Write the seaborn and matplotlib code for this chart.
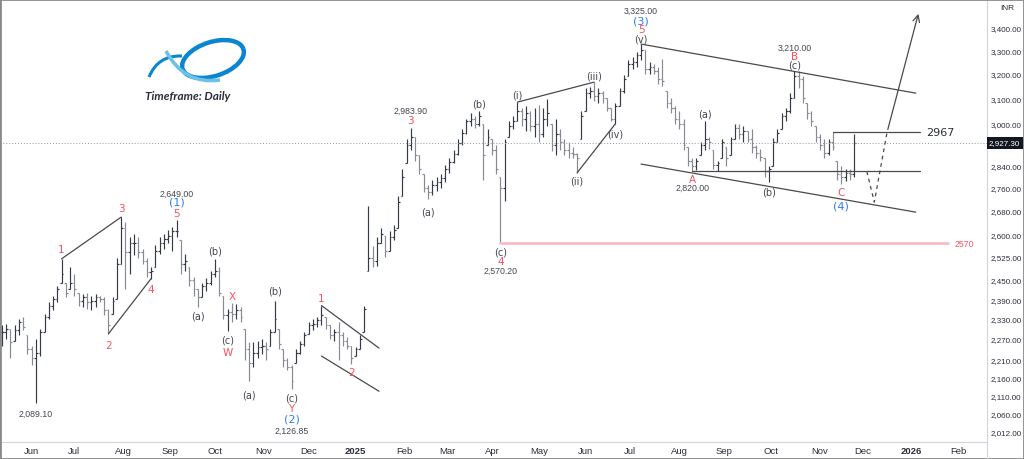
'''
Daily OHLC chart with Elliott wave count (INR), TradingView style.
'''
import numpy as np
import pandas as pd
import matplotlib
matplotlib.use('Agg')
import matplotlib.pyplot as plt
import matplotlib.patches as mpatches
from matplotlib.path import Path
from matplotlib.ticker import FixedLocator, NullLocator, FuncFormatter
import seaborn as sns

# one drawn bar every 2 business days, starting 2024-05-14
start_day = '2024-05-14'
bar_step = 2

highs = [2310, 2315, 2300, 2310, 2330, 2335, 2280, 2250, 2270, 2300,
         2345, 2380, 2400, 2430, 2518, 2440, 2490, 2470, 2410, 2405,
         2410, 2400, 2405, 2400, 2395, 2360, 2395, 2520, 2658, 2640,
         2590, 2600, 2590, 2550, 2520, 2490, 2565, 2590, 2600, 2615,
         2625, 2648, 2580, 2535, 2490, 2460, 2420, 2440, 2455, 2480,
         2518, 2490, 2400, 2360, 2378, 2375, 2365, 2300, 2260, 2260,
         2265, 2270, 2260, 2300, 2385, 2300, 2240, 2215, 2195, 2240,
         2265, 2290, 2320, 2330, 2335, 2370, 2335, 2310, 2300, 2320,
         2290, 2275, 2250, 2245, 2280, 2370, 2697, 2560, 2590, 2620,
         2595, 2610, 2630, 2730, 2830, 2940, 2984, 2950, 2880, 2810,
         2770, 2790, 2800, 2810, 2845, 2870, 2900, 2940, 2980, 3020,
         3040, 3030, 3050, 3000, 2980, 2940, 2920, 2800, 2940, 3010,
         3030, 3085, 3060, 3070, 3050, 3060, 3075, 3060, 3097, 3000,
         3020, 2980, 2940, 2930, 2910, 2890, 3050, 3140, 3145, 3166,
         3140, 3130, 3100, 3060, 3080, 3140, 3195, 3260, 3270, 3290,
         3326, 3300, 3250, 3240, 3230, 3262, 3130, 3100, 3070, 3050,
         3020, 2910, 2870, 2870, 2930, 3010, 2950, 2900, 2860, 2940,
         2910, 2950, 3000, 3000, 2990, 2970, 2980, 2920, 2905, 2870,
         2840, 2945, 2980, 3040, 3060, 3120, 3212, 3212, 3190, 3080,
         3050, 2990, 2960, 2940, 2940, 2967, 2860, 2840, 2830, 2830,
         2960]
lows = [2250, 2270, 2215, 2265, 2280, 2295, 2225, 2195, 2089.1, 2220,
        2290, 2330, 2355, 2380, 2440, 2395, 2420, 2400, 2370, 2365,
        2360, 2355, 2365, 2380, 2340, 2285, 2345, 2390, 2500, 2420,
        2470, 2530, 2520, 2500, 2460, 2454, 2490, 2535, 2550, 2570,
        2545, 2590, 2470, 2480, 2430, 2400, 2367, 2395, 2415, 2435,
        2460, 2400, 2330, 2293, 2320, 2330, 2320, 2210, 2148, 2190,
        2215, 2225, 2210, 2250, 2290, 2240, 2190, 2180, 2126.85, 2200,
        2225, 2250, 2285, 2295, 2305, 2310, 2300, 2270, 2265, 2210,
        2250, 2240, 2198, 2220, 2240, 2290, 2480, 2490, 2495, 2570,
        2525, 2545, 2580, 2620, 2730, 2850, 2900, 2860, 2810, 2745,
        2721, 2735, 2750, 2760, 2780, 2815, 2850, 2880, 2920, 2960,
        2990, 2985, 2990, 2790, 2920, 2880, 2810, 2570.2, 2715, 2950,
        2980, 3010, 2990, 2970, 2970, 2950, 2930, 2950, 2990, 2895,
        2880, 2900, 2880, 2870, 2870, 2815, 2940, 3050, 3100, 3090,
        3080, 3080, 3050, 3010, 3000, 3070, 3120, 3190, 3220, 3230,
        3260, 3200, 3200, 3200, 3160, 3150, 3060, 3040, 3000, 2980,
        2900, 2840, 2820, 2825, 2880, 2900, 2905, 2830, 2820, 2870,
        2840, 2880, 2940, 2940, 2930, 2930, 2890, 2870, 2860, 2800,
        2781, 2840, 2930, 2980, 3010, 3040, 3100, 3140, 3080, 3020,
        2990, 2930, 2900, 2870, 2880, 2900, 2790, 2774, 2785, 2790,
        2800]
closes = [2290, 2300, 2260, 2295, 2320, 2305, 2240, 2215, 2230, 2290,
          2335, 2370, 2390, 2420, 2470, 2410, 2440, 2420, 2385, 2395,
          2380, 2385, 2395, 2390, 2355, 2310, 2385, 2500, 2620, 2540,
          2570, 2570, 2540, 2510, 2475, 2480, 2545, 2570, 2585, 2595,
          2610, 2610, 2500, 2510, 2450, 2420, 2395, 2430, 2440, 2470,
          2480, 2410, 2340, 2350, 2345, 2355, 2335, 2240, 2200, 2230,
          2245, 2250, 2240, 2290, 2330, 2255, 2210, 2190, 2150, 2230,
          2255, 2280, 2310, 2315, 2325, 2340, 2310, 2280, 2290, 2280,
          2265, 2250, 2215, 2240, 2270, 2360, 2520, 2510, 2570, 2600,
          2545, 2590, 2615, 2710, 2800, 2920, 2950, 2880, 2830, 2760,
          2745, 2770, 2780, 2795, 2830, 2855, 2885, 2925, 2965, 3010,
          3020, 3000, 3030, 2880, 2950, 2900, 2830, 2760, 2930, 2990,
          3010, 3050, 3020, 3040, 2990, 3000, 2960, 3020, 3040, 2920,
          2960, 2930, 2900, 2890, 2885, 2870, 3030, 3120, 3130, 3110,
          3120, 3100, 3060, 3020, 3070, 3130, 3180, 3240, 3250, 3280,
          3300, 3220, 3230, 3210, 3180, 3170, 3080, 3060, 3020, 3000,
          2920, 2860, 2840, 2860, 2920, 2940, 2930, 2845, 2850, 2930,
          2870, 2940, 2985, 2960, 2970, 2940, 2910, 2890, 2875, 2820,
          2830, 2930, 2965, 3030, 3050, 3100, 3190, 3180, 3100, 3040,
          3010, 2950, 2920, 2890, 2930, 2910, 2810, 2800, 2815, 2810,
          2927.3]

last_price = 2927.3
y_ticks = [3400, 3300, 3200, 3100, 3000, 2840, 2760, 2680, 2600, 2525,
           2450, 2390, 2330, 2270, 2210, 2160, 2110, 2060, 2012]

RED, BLUE, DARK, GRAY = '#f7525f', '#2f7bf5', '#434651', '#434651'
# (bar, side, offset px, text, color, size)
wave_labels = [
    (8, 'low', 10, '2,089.10', GRAY, 6.3),
    (14, 'high', 10, '1', RED, 7.5), (25, 'low', 11, '2', RED, 7.5),
    (28, 'high', 9, '3', RED, 7.5), (35, 'low', 10, '4', RED, 7.5),
    (41, 'high', 7, '5', RED, 7.5), (41, 'high', 18, '(1)', BLUE, 8),
    (41, 'high', 27, '2,649.00', GRAY, 6.3),
    (46, 'low', 9, '(a)', DARK, 7), (50, 'high', 8, '(b)', DARK, 7),
    (53, 'low', 8, '(c)', DARK, 7), (53, 'low', 21, 'W', RED, 7.5),
    (54, 'high', 7, 'X', RED, 7.5),
    (58, 'low', 13, '(a)', DARK, 7), (64, 'high', 10, '(b)', DARK, 7),
    (68, 'low', 8, '(c)', DARK, 7), (68, 'low', 19, 'Y', RED, 7.5),
    (68, 'low', 29, '(2)', BLUE, 8), (68, 'low', 41, '2,126.85', GRAY, 6.3),
    (75, 'high', 8, '1', RED, 7.5), (82, 'low', 8, '2', RED, 7.5),
    (96, 'high', 8, '3', RED, 7.5), (96, 'high', 17, '2,983.90', GRAY, 6.3),
    (100, 'low', 12, '(a)', DARK, 7), (112, 'high', 7, '(b)', DARK, 7),
    (117, 'low', 8, '(c)', DARK, 7), (117, 'low', 18, '4', RED, 7.5),
    (117, 'low', 27, '2,570.20', GRAY, 6.3),
    (121, 'high', 8, '(i)', DARK, 7), (135, 'low', 8, '(ii)', DARK, 7),
    (139, 'high', 7, '(iii)', DARK, 7), (144, 'low', 10, '(iv)', DARK, 7),
    (150, 'high', 6, '(v)', DARK, 7), (150, 'high', 15, '5', RED, 7.5),
    (150, 'high', 24, '(3)', BLUE, 8), (150, 'high', 34, '3,325.00', GRAY, 6.3),
    (162, 'low', 8, 'A', RED, 7.5), (162, 'low', 16, '2,820.00', GRAY, 6.3),
    (165, 'high', 8, '(a)', DARK, 7), (180, 'low', 9, '(b)', DARK, 7),
    (186, 'high', 6, '(c)', DARK, 7), (186, 'high', 15, 'B', RED, 7.5),
    (186, 'high', 24, '3,210.00', GRAY, 6.3),
    (197, 'low', 8, 'C', RED, 7.5), (197, 'low', 21, '(4)', BLUE, 8),
]

# pivot-to-pivot trend lines: (bar, side) pairs
pivot_lines = [((14, 'high'), (28, 'high')), ((25, 'low'), (35, 'low')),
               ((121, 'high'), (139, 'high')), ((135, 'low'), (144, 'low'))]
# free lines in (business-day index, price)
free_lines = [((150, 2370), (177, 2243)), ((150, 2220), (177, 2121)),
              ((300, 3326), (429, 3121)), ((300, 2847), (429, 2675)),
              ((324, 2820), (431, 2820)), ((390, 2967), (431, 2967))]
proj_x = [406, 409.5, 415.5]
proj_y = [2820, 2710, 2967]
arrow_tip = (430.5, 3471)

sns.set_theme(style='white')
plt.rcParams['font.family'] = ['Liberation Sans', 'DejaVu Sans']

n = len(highs)
assert n == len(lows) == len(closes)
df = pd.DataFrame({'x': np.arange(n) * bar_step, 'high': highs, 'low': lows, 'close': closes})
df['open'] = np.clip(np.r_[closes[0], closes[:-1]], df.low, df.high)
df['color'] = np.where(df.close >= df.open, '#363a45', '#878a94')

fig = plt.figure(figsize=(10.24, 4.6), dpi=100)
ax = fig.add_axes([0, 17 / 460, 987 / 1024, 443 / 460])

ax.vlines(df.x, df.low, df.high, colors=df.color, lw=0.85)
ax.hlines(df.open, df.x - 0.8, df.x, colors=df.color, lw=0.85)
ax.hlines(df.close, df.x, df.x + 0.8, colors=df.color, lw=0.85)

ax.axhline(last_price, color='#9598a1', ls=(0, (1, 2)), lw=0.7)

def pivot(bar, side):
    return bar * bar_step, (highs[bar] if side == 'high' else lows[bar])

for a, b in pivot_lines:
    (x0, y0), (x1, y1) = pivot(*a), pivot(*b)
    ax.plot([x0, x1], [y0, y1], color='#4a4a4a', lw=0.9)
for (x0, y0), (x1, y1) in free_lines:
    ax.plot([x0, x1], [y0, y1], color='#4a4a4a', lw=0.9)

# 2570 support in pink
ax.plot([pivot(117, 'low')[0], 444], [2570, 2570], color='#f8bcc3', lw=2)
ax.text(447, 2570, '2570', color=RED, fontsize=6.3, va='center', ha='left')
ax.text(434, 2967, '2967', color='#2a2e39', fontsize=8, va='center', ha='left',
        family=['DejaVu Sans'])

proj = pd.DataFrame({'x': proj_x, 'y': proj_y})
sns.lineplot(data=proj, x='x', y='y', ax=ax, color='#4a4a4a', lw=0.9,
             linestyle=(0, (3, 3)), sort=False)
ax.annotate('', xy=arrow_tip, xytext=(proj_x[-1], proj_y[-1]),
            arrowprops=dict(arrowstyle='->', color='#4a4a4a', lw=0.9, mutation_scale=12))

for bar, side, off, txt, col, size in wave_labels:
    x, y = pivot(bar, side)
    dy = off if side == 'high' else -off
    fam = ['Liberation Sans'] if ',' in txt else ['DejaVu Sans']
    ax.annotate(txt, (x, y), xytext=(0, dy), textcoords='offset pixels',
                ha='center', va='center', color=col, fontsize=size, family=fam)

# axes
ax.set_yscale('log')
ax.set_ylim(1986, 3526)
ax.set_xlim(-0.9, 462.4)
ax.yaxis.set_major_locator(FixedLocator(y_ticks))
ax.yaxis.set_minor_locator(NullLocator())
ax.yaxis.set_major_formatter(FuncFormatter(lambda v, p: f'{v:,.2f}'))
ax.yaxis.tick_right()
ax.tick_params(axis='y', length=0, pad=2.5, labelsize=5.8, labelcolor='#2a2e39')
ax.set_xlabel('')
ax.set_ylabel('')

bdays = pd.bdate_range(start_day, periods=462)
mdf = pd.DataFrame({'d': bdays, 'i': np.arange(len(bdays))})
firsts = mdf.groupby([mdf.d.dt.year, mdf.d.dt.month]).first()
firsts = firsts[firsts.i > 0]
xt = firsts.i.tolist()
xl = [str(d.year) if d.month == 1 else d.strftime('%b') for d in firsts.d]
ax.set_xticks(xt)
ax.set_xticklabels(xl)
ax.xaxis.set_minor_locator(NullLocator())
ax.tick_params(axis='x', length=0, pad=3, labelsize=6.8, labelcolor='#2a2e39')
for lbl in ax.get_xticklabels():
    if lbl.get_text() in ('2025', '2026'):
        lbl.set_fontweight('bold')

for s in ('top', 'left'):
    ax.spines[s].set_visible(False)
for s in ('right', 'bottom'):
    ax.spines[s].set_color('#d1d4dc')
    ax.spines[s].set_linewidth(0.8)

ax.text(1.002, last_price, f'{last_price:,.2f}', transform=ax.get_yaxis_transform(),
        color='white', fontsize=5.8, va='center', ha='left',
        bbox=dict(boxstyle='square,pad=0.3', facecolor='#131722', edgecolor='none'))
fig.text(1000 / 1024, 1 - 9 / 460, 'INR', fontsize=6, color='#2a2e39', va='center')
fig.add_artist(plt.Line2D([987 / 1024, 987 / 1024], [0, 17 / 460], color='#d1d4dc', lw=0.8))

# logo and timeframe caption
lax = fig.add_axes([145 / 1024, 1 - 90 / 460, 105 / 1024, 55 / 460])
lax.set_xlim(145, 250)
lax.set_ylim(90, 35)
lax.axis('off')
lax.add_patch(mpatches.Arc((213, 60), 64, 34, angle=-18, theta1=0, theta2=360,
                           color='#0a86d0', lw=3.2))
lax.add_patch(mpatches.PathPatch(Path([(149, 78), (158, 56), (182, 57)],
                                      [Path.MOVETO, Path.CURVE3, Path.CURVE3]),
                                 fill=False, edgecolor='#0a86d0', lw=2.2))
lax.add_patch(mpatches.PathPatch(Path([(166, 52), (184, 86), (220, 81)],
                                      [Path.MOVETO, Path.CURVE3, Path.CURVE3]),
                                 fill=False, edgecolor='#6cc0ea', lw=2.6))
fig.text(188 / 1024, 1 - 97 / 460, 'Timeframe: Daily', fontsize=8.5, style='italic',
         fontweight='bold', color='#2a2e39', ha='center', va='center', family=['Lato', 'DejaVu Sans'])

fig.add_artist(mpatches.Rectangle((0, 0), 1, 1, transform=fig.transFigure, fill=False,
                                  edgecolor='#8a8a8a', lw=2))
fig.savefig('out.png', dpi=100)
